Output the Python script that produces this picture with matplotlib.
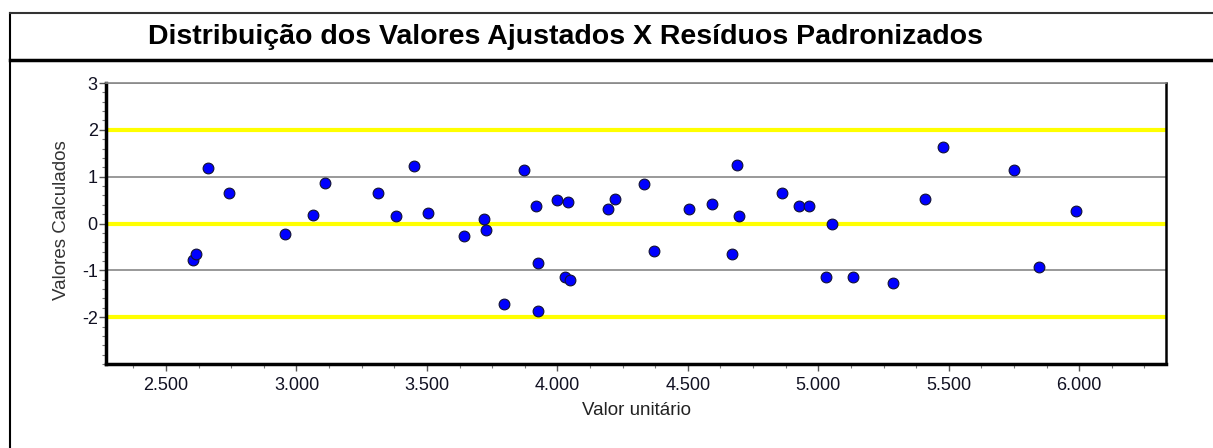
import matplotlib.pyplot as plt
from matplotlib.lines import Line2D
from matplotlib.ticker import FuncFormatter, MultipleLocator

plt.rcParams["font.family"] = ["Liberation Sans", "DejaVu Sans"]
plt.rcParams["axes.unicode_minus"] = False

# valores ajustados (x) e resíduos padronizados (y)
valor_unitario = [
    2605, 2613, 2660, 2742, 2956, 3065, 3108, 3314, 3383, 3451, 3506,
    3642, 3718, 3727, 3795, 3872, 3919, 3926, 3926, 4000, 4028, 4041,
    4050, 4194, 4221, 4331, 4372, 4503, 4594, 4669, 4687, 4697, 4860,
    4928, 4964, 5030, 5051, 5133, 5285, 5408, 5477, 5750, 5846, 5989,
]
residuos = [
    -0.77, -0.65, 1.18, 0.65, -0.23, 0.19, 0.87, 0.65, 0.16, 1.22, 0.23,
    -0.27, 0.09, -0.13, -1.72, 1.14, 0.38, -0.84, -1.87, 0.50, -1.15, 0.45,
    -1.21, 0.31, 0.53, 0.84, -0.58, 0.31, 0.42, -0.65, 1.26, 0.16, 0.65,
    0.38, 0.38, -1.15, 0.0, -1.15, -1.26, 0.53, 1.64, 1.14, -0.92, 0.26,
]
limites = [-2, 0, 2]
grade = [-1, 1, 3]
titulo = "Distribuição dos Valores Ajustados X Resíduos Padronizados"

fig = plt.figure(figsize=(12.13, 4.48), dpi=100)
ax = fig.add_axes([0.0874, 0.1875, 0.8739, 0.6272])

# moldura
fig.add_artist(Line2D([10 / 1213, 10 / 1213], [0, 1 - 13 / 448],
                      transform=fig.transFigure, color="black", lw=1.5))
fig.add_artist(Line2D([10 / 1213, 1], [1 - 13 / 448, 1 - 13 / 448],
                      transform=fig.transFigure, color="#333333", lw=1.5))
fig.add_artist(Line2D([10 / 1213, 1], [1 - 60 / 448, 1 - 60 / 448],
                      transform=fig.transFigure, color="black", lw=2.5))
fig.text(566 / 1213, 1 - 37 / 448, titulo, ha="center", va="center",
         fontsize=20.5, fontweight="bold")

for g in grade:
    ax.axhline(g, color="#888888", lw=1.2, zorder=1)
for lim in limites:
    ax.axhline(lim, color="#ffff00", lw=3, zorder=1)

ax.scatter(valor_unitario, residuos, s=60, color="#0000ff",
           edgecolors="#111133", linewidths=0.8, zorder=3)

ax.set_xlim(2270, 6333)
ax.set_ylim(-3, 3)
ax.set_yticks([-2, -1, 0, 1, 2, 3])
ax.yaxis.set_minor_locator(MultipleLocator(0.2))
ax.xaxis.set_major_locator(MultipleLocator(500))
ax.xaxis.set_minor_locator(MultipleLocator(125))
ax.xaxis.set_major_formatter(
    FuncFormatter(lambda v, p: f"{v:,.0f}".replace(",", ".")))

for side in ["left", "bottom"]:
    ax.spines[side].set_linewidth(2.5)
ax.spines["right"].set_linewidth(1.8)
ax.spines["top"].set_color("#888888")
ax.spines["top"].set_linewidth(1.2)

ax.tick_params(axis="both", which="major", labelsize=13, length=5,
               width=1, color="#555555", labelcolor="#111122")
ax.tick_params(axis="both", which="minor", length=3, width=0.8,
               color="#777777")
ax.tick_params(axis="y", pad=1)
ax.tick_params(axis="x", pad=4)

fig.text(62 / 1213, 1 - 220 / 448, "Valores Calculados", rotation=90,
         ha="center", va="center", fontsize=13.5, color="#333333")
fig.text(636 / 1213, 1 - 410 / 448, "Valor unitário", ha="center",
         va="center", fontsize=13.5, color="#222222")

fig.savefig("out.png", dpi=100)
